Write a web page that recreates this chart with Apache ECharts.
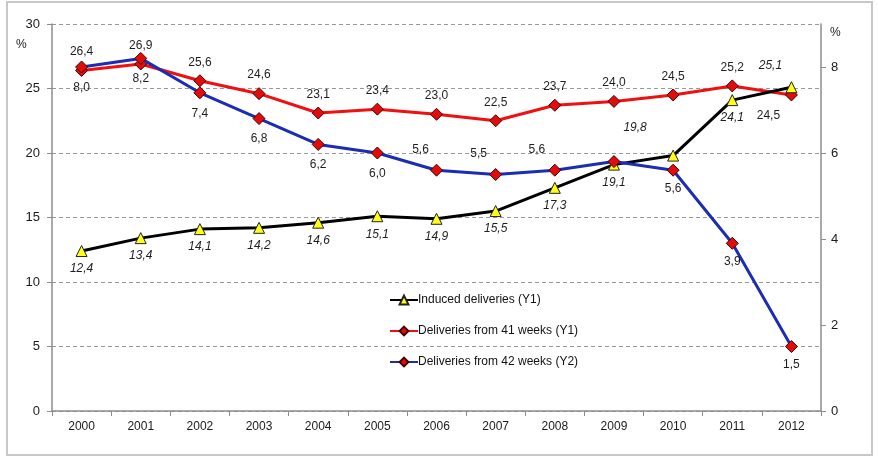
<!DOCTYPE html>
<html>
<head>
<meta charset="utf-8">
<script src="https://cdn.jsdelivr.net/npm/echarts@6/dist/echarts.min.js"></script>
<style>
  html, body { margin: 0; padding: 0; background: #fff; }
  #chart { width: 878px; height: 465px; }
</style>
</head>
<body>
<div id="chart"></div>
<script>
// Years on the category axis
const years = ['2000', '2001', '2002', '2003', '2004', '2005', '2006', '2007', '2008', '2009', '2010', '2011', '2012'];

// Rates, %  (first two on the left axis, the last on the right axis)
const induced = [12.4, 13.4, 14.1, 14.2, 14.6, 15.1, 14.9, 15.5, 17.3, 19.1, 19.8, 24.1, 25.1];
const from41 = [26.4, 26.9, 25.6, 24.6, 23.1, 23.4, 23.0, 22.5, 23.7, 24.0, 24.5, 25.2, 24.5];
const from42 = [8.0, 8.2, 7.4, 6.8, 6.2, 6.0, 5.6, 5.5, 5.6, 5.8, 5.6, 3.9, 1.5];

// Tick values for both value axes
const leftTicks = [0, 5, 10, 15, 20, 25, 30];
const rightTicks = [0, 2, 4, 6, 8];

const seriesNames = ['Induced deliveries (Y1)', 'Deliveries from 41 weeks (Y1)', 'Deliveries from 42 weeks (Y2)'];

// Where each value label sits: [side, dx, dy]; null hides the label
const inducedLabelPos = [
  ['bottom', 0, 0], ['bottom', 0, 0], ['bottom', 0, 0], ['bottom', 0, 0], ['bottom', 0, 0],
  ['bottom', 0, 0], ['bottom', 0, 0], ['bottom', 0, 0], ['bottom', 0, 0], ['bottom', 0, 0],
  ['top', -38, -10], ['bottom', 0, 0], ['top', -21, -4]
];
const from41LabelPos = [
  ['top', 0, 0], ['top', 0, 0], ['top', 0, 0], ['top', 0, 0], ['top', 0, 0],
  ['top', 0, 0], ['top', 0, 0], ['top', 0, 0], ['top', 0, 0], ['top', 0, 0],
  ['top', 0, 0], ['top', 0, 0], ['bottom', -23, 2]
];
const from42LabelPos = [
  ['bottom', 0, 2], ['bottom', 0, 2], ['bottom', 0, 2], ['bottom', 0, 2], ['bottom', 0, 2],
  ['bottom', 0, 2], ['top', -16, -2], ['top', -17, -2], ['top', -18, -2], null,
  ['bottom', 0, 0], ['bottom', 0, 0], ['bottom', 0, 0]
];

const fmt = v => v.toFixed(1).replace('.', ',');

function withLabels(values, placement, italic) {
  return values.map((v, i) => {
    const p = placement[i];
    if (!p) return { value: v, label: { show: false } };
    return {
      value: v,
      label: {
        show: true,
        position: p[0],
        offset: [p[1], p[2]],
        distance: 6,
        formatter: fmt(v),
        fontStyle: italic ? 'italic' : 'normal',
        fontFamily: 'Liberation Sans, Arial, sans-serif',
        fontSize: 12,
        color: '#1e1e1e'
      }
    };
  });
}

const chart = echarts.init(document.getElementById('chart'), null, { renderer: 'canvas' });

const axisGrey = '#8c8c8c';
const textColor = '#1a1a1a';
const font = 'Liberation Sans, Arial, sans-serif';

chart.setOption({
  animation: false,
  backgroundColor: '#fff',
  textStyle: { fontFamily: font },
  grid: { left: 52, right: 57, top: 24, bottom: 54, containLabel: false },
  graphic: [
    {
      type: 'rect',
      shape: { x: 7, y: 2, width: 865, height: 453 },
      style: { fill: 'none', stroke: '#c8c8c8', lineWidth: 2 },
      silent: true,
      z: -1
    },
    { type: 'text', left: 16, top: 39, style: { text: '%', font: '12px ' + font, fill: textColor } },
    { type: 'text', left: 830, top: 27, style: { text: '%', font: '12px ' + font, fill: textColor } }
  ],
  legend: {
    orient: 'vertical',
    left: 384,
    top: 289,
    itemWidth: 28,
    itemHeight: 11,
    itemGap: 19,
    textStyle: { fontSize: 12, color: '#111', fontFamily: font, padding: [0, 0, 0, -5] },
    data: seriesNames
  },
  xAxis: {
    type: 'category',
    data: years,
    boundaryGap: true,
    axisLine: { lineStyle: { color: axisGrey, width: 1.5 } },
    axisTick: { show: true, length: 5, lineStyle: { color: axisGrey } },
    axisLabel: { fontSize: 12, color: textColor, margin: 10 },
    splitLine: { show: false }
  },
  yAxis: [
    {
      type: 'value',
      min: 0,
      max: 30,
      interval: 5,
      position: 'left',
      axisLine: { show: true, lineStyle: { color: axisGrey, width: 1.5 } },
      axisTick: { show: true, length: 5, lineStyle: { color: axisGrey } },
      axisLabel: {
        fontSize: 13, color: textColor, margin: 12,
        customValues: leftTicks
      },
      splitLine: { show: true, lineStyle: { color: '#9a9a9a', type: [4, 3], width: 1 } }
    },
    {
      type: 'value',
      min: 0,
      max: 9,
      interval: 1,
      position: 'right',
      axisLine: { show: true, lineStyle: { color: axisGrey, width: 1.5 } },
      axisTick: { show: true, length: 5, lineStyle: { color: axisGrey }, customValues: rightTicks },
      axisLabel: { fontSize: 13, color: textColor, margin: 10, customValues: rightTicks },
      splitLine: { show: false }
    }
  ],
  series: [
    {
      name: seriesNames[0],
      type: 'line',
      yAxisIndex: 0,
      data: withLabels(induced, inducedLabelPos, true),
      symbol: 'triangle',
      symbolSize: 11,
      lineStyle: { color: '#000', width: 3 },
      itemStyle: { color: '#ffff1a', borderColor: '#222', borderWidth: 1 },
      z: 3
    },
    {
      name: seriesNames[1],
      type: 'line',
      yAxisIndex: 0,
      data: withLabels(from41, from41LabelPos, false),
      symbol: 'diamond',
      symbolSize: 12,
      lineStyle: { color: '#f01010', width: 3 },
      itemStyle: { color: '#e00d0d', borderColor: '#4a0000', borderWidth: 1 },
      z: 2
    },
    {
      name: seriesNames[2],
      type: 'line',
      yAxisIndex: 1,
      data: withLabels(from42, from42LabelPos, false),
      symbol: 'diamond',
      symbolSize: 12,
      lineStyle: { color: '#1c2cb4', width: 3 },
      itemStyle: { color: '#e00d0d', borderColor: '#4a0000', borderWidth: 1 },
      z: 4
    }
  ]
});
</script>
</body>
</html>
